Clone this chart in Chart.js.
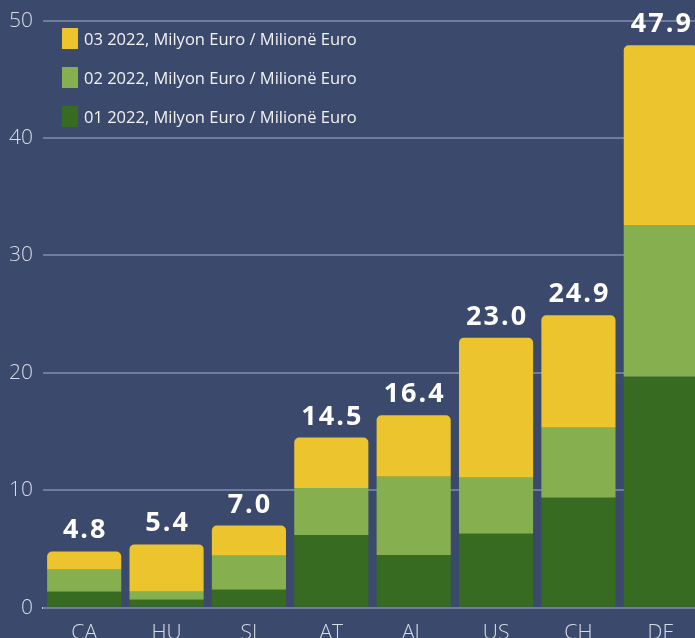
<!DOCTYPE html>
<html><head><meta charset="utf-8">
<script src="https://cdn.jsdelivr.net/npm/chart.js@4/dist/chart.umd.min.js"></script>
<style>
html,body{margin:0;padding:0;background:#3b4a6c;overflow:hidden;width:695px;height:638px;}
#wrap{position:absolute;left:0;top:-2px;width:702px;height:661px;}
#legend{position:absolute;left:62px;top:27px;font-family:"Open Sans",sans-serif;font-size:16.5px;color:#f2f2f2;}
.li{display:flex;align-items:center;height:22px;margin-bottom:17px;}
.sw{width:16px;height:21px;margin-right:6px;}
</style></head>
<body>
<div id="wrap"><canvas id="c"></canvas></div>
<div id="legend"></div>
<script>
const categories = ["CA","HU","SI","AT","AL","US","CH","DE"];
const q1 = [1.36, 0.68, 1.53, 6.2, 4.5, 6.3, 9.37, 19.68];
const q2 = [1.88, 0.68, 2.9, 4.0, 6.66, 4.77, 5.96, 12.92];
const q3 = [1.56, 4.04, 2.57, 4.3, 5.24, 11.93, 9.57, 15.3];
const totals = [4.8, 5.4, 7.0, 14.5, 16.4, 23.0, 24.9, 47.9];
const seriesLabels = ["01 2022, Milyon Euro / Milionë Euro","02 2022, Milyon Euro / Milionë Euro","03 2022, Milyon Euro / Milionë Euro"];
const yTicks = [0,10,20,30,40,50];
const colors = ["#376b21","#86af50","#ebc42e"];

const totalsPlugin = {
  id:'totals',
  afterDatasetsDraw(chart){
    const ctx = chart.ctx;
    const meta = chart.getDatasetMeta(2);
    ctx.save();
    ctx.font = "bold 27px 'Open Sans', sans-serif";
    ctx.fillStyle = "#ffffff";
    ctx.textAlign = "center";
    ctx.textBaseline = "alphabetic";
    try{ctx.letterSpacing = "2px";}catch(e){}
    meta.data.forEach((bar,i)=>{
      const y = chart.scales.y.getPixelForValue(totals[i]);
      ctx.fillText(totals[i].toFixed(1), bar.x + 1, y - 13);
    });
    ctx.restore();
  }
};

const chart = new Chart(document.getElementById('c'), {
  type:'bar',
  data:{
    labels:categories,
    datasets:[
      {label:seriesLabels[0], data:q1, backgroundColor:colors[0], borderRadius:0, borderSkipped:false},
      {label:seriesLabels[1], data:q2, backgroundColor:colors[1], borderRadius:0, borderSkipped:false},
      {label:seriesLabels[2], data:q3, backgroundColor:colors[2], borderRadius:{topLeft:5,topRight:5,bottomLeft:0,bottomRight:0}, borderSkipped:false}
    ]
  },
  plugins:[totalsPlugin],
  options:{
    responsive:true,
    maintainAspectRatio:false,
    animation:false,
    layout:{padding:{top:0,left:0,right:0,bottom:0}},
    datasets:{bar:{categoryPercentage:1.0, barPercentage:0.9}},
    plugins:{legend:{display:false}, tooltip:{enabled:false}},
    scales:{
      x:{
        stacked:true,
        grid:{display:false, drawTicks:false},
        border:{display:true, color:"#c3c8d6", width:2, z:-1},
        ticks:{color:"#d8dce6", font:{family:"'Open Sans', sans-serif", size:21, weight:300}, padding:13}
      },
      y:{
        stacked:true,
        min:0, max:50,
        afterBuildTicks(axis){ axis.ticks = yTicks.map(v=>({value:v})); },
        grid:{color:"#6f7c9b", lineWidth:2, drawTicks:false},
        border:{display:false},
        ticks:{color:"#d8dce6", font:{family:"'Open Sans', sans-serif", size:21, weight:300}, padding:10},
        afterFit(axis){ axis.width = 43; }
      }
    }
  }
});

const lg = document.getElementById('legend');
[2,1,0].forEach(i=>{
  const d = chart.data.datasets[i];
  const row = document.createElement('div'); row.className='li';
  const sw = document.createElement('div'); sw.className='sw'; sw.style.background=d.backgroundColor;
  const t = document.createElement('span'); t.textContent=d.label;
  row.appendChild(sw); row.appendChild(t); lg.appendChild(row);
});
</script>
</body></html>
